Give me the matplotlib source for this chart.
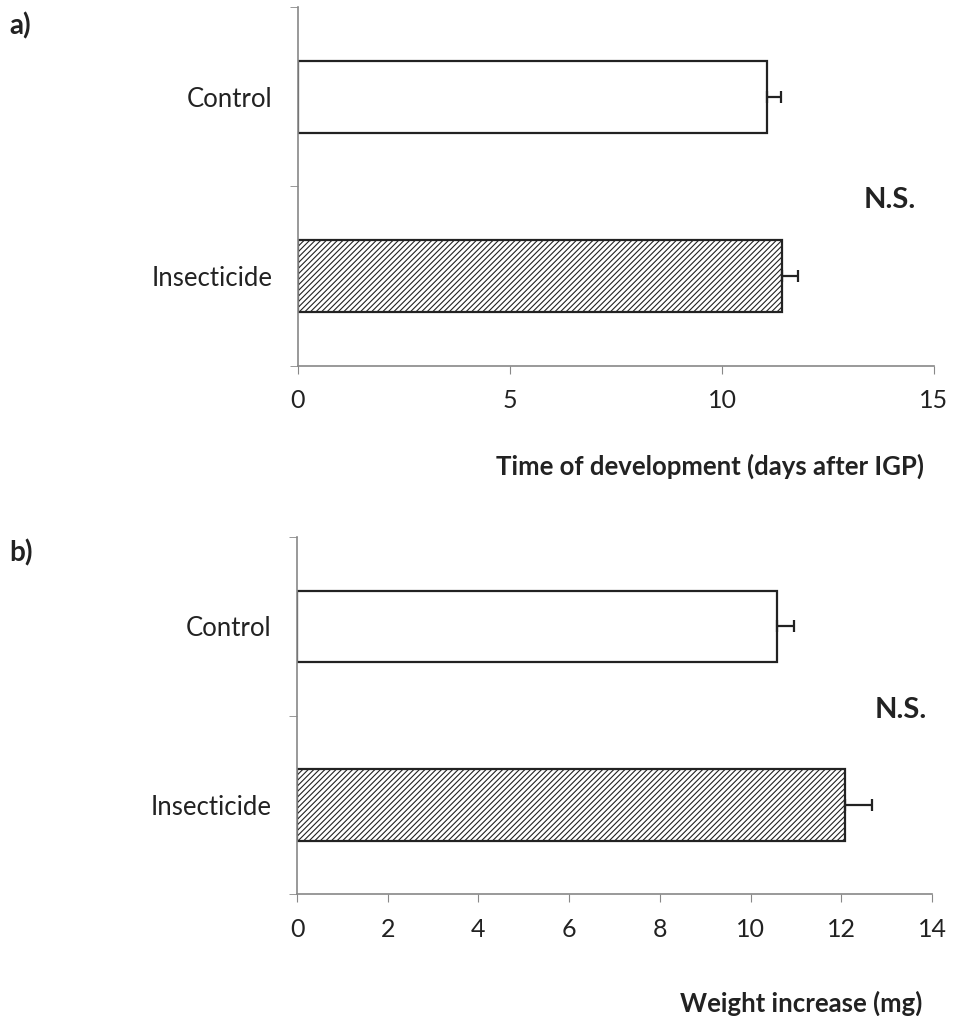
import numpy as np
import matplotlib
matplotlib.use("Agg")
import matplotlib.pyplot as plt

plt.rcParams['font.family'] = ['Lato', 'DejaVu Sans']
plt.rcParams['hatch.linewidth'] = 0.8

# data
groups = ['Insecticide', 'Control']
dev_days = [11.42, 11.06]
dev_err = [0.38, 0.33]
weight_mg = [12.08, 10.58]
weight_err = [0.60, 0.37]

dev_ticks = [0, 5, 10, 15]
weight_ticks = [0, 2, 4, 6, 8, 10, 12, 14]

fig = plt.figure(figsize=(9.55, 10.16), dpi=100)
axA = fig.add_axes([0.312, 0.640, 0.666, 0.353])
axB = fig.add_axes([0.311, 0.120, 0.665, 0.3515])

def panel(ax, vals, errs, xticks, xlabel, label_y, ns_x, ns_y):
    ypos = np.arange(len(groups))
    hatches = ['//////', '']
    for y, v, e, h in zip(ypos, vals, errs, hatches):
        ax.barh(y, v, height=0.4, color='white', edgecolor='#222222', hatch=h,
                linewidth=1.6, zorder=2)
        ax.errorbar(v, y, xerr=[[0], [e]], fmt='none', ecolor='#222222',
                    elinewidth=1.6, capsize=4, capthick=1.6, zorder=3)
    ax.set_xlim(xticks[0], xticks[-1])
    ax.set_ylim(-0.5, 1.5)
    ax.set_xticks(xticks)
    ax.set_xticklabels([str(t) for t in xticks], fontsize=18, color='#222222')
    ax.set_yticks(ypos)
    ax.set_yticklabels(groups, fontsize=18.5, color='#222222')
    ax.set_yticks([-0.5, 0.5, 1.5], minor=True)
    ax.tick_params(axis='y', which='major', length=0, pad=18.5)
    ax.tick_params(axis='y', which='minor', length=6, color='#888888')
    ax.tick_params(axis='x', length=6, color='#888888', pad=11)
    for s in ['top', 'right']:
        ax.spines[s].set_visible(False)
    for s in ['left', 'bottom']:
        ax.spines[s].set_color('#888888')
        ax.spines[s].set_linewidth(1.2)
    ax.text(0.985, label_y, xlabel, transform=ax.transAxes, ha='right', va='center',
            fontsize=18.5, fontweight='bold', color='#222222')
    ax.text(ns_x, ns_y, 'N.S.', transform=ax.transAxes, ha='center', va='center',
            fontsize=21, fontweight='bold', color='#222222')

panel(axA, dev_days, dev_err, dev_ticks, 'Time of development (days after IGP)', -0.28, 0.93, 0.462)
panel(axB, weight_mg, weight_err, weight_ticks, 'Weight increase (mg)', -0.305, 0.95, 0.515)

fig.text(0.010, 0.975, 'a)', fontsize=20, fontweight='bold', va='center', color='#222222')
fig.text(0.010, 0.456, 'b)', fontsize=20, fontweight='bold', va='center', color='#222222')

fig.savefig('out.png', dpi=100, facecolor='white')
